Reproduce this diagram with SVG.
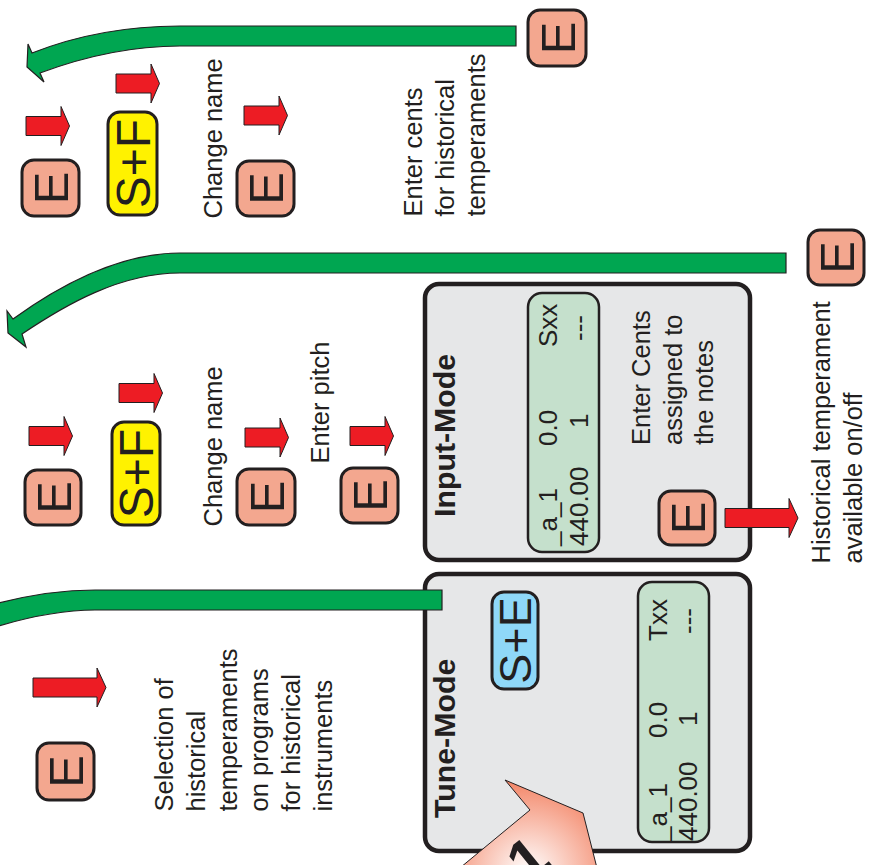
<svg xmlns="http://www.w3.org/2000/svg" xmlns:xlink="http://www.w3.org/1999/xlink" width="874" height="865" viewBox="0 0 874 865">
<style>
.t{font-family:"Liberation Sans",Arial,sans-serif;font-size:25.5px;fill:#231f20}
.lcd{font-family:"Liberation Sans",Arial,sans-serif;font-size:26px;fill:#231f20}
.title{font-family:"Liberation Sans",Arial,sans-serif;font-size:30.3px;font-weight:bold;fill:#231f20}
.key{font-family:"Liberation Sans",Arial,sans-serif;fill:#231f20;text-anchor:middle}
.eb{fill:#f3a78f;stroke:#231f20;stroke-width:3}
.sf{fill:#fff200;stroke:#231f20;stroke-width:3}
.se{fill:#8fd8f8;stroke:#231f20;stroke-width:3}
.box{fill:#e6e7e8;stroke:#231f20;stroke-width:4.5}
.lcdbox{fill:#c5e0cc;stroke:#231f20;stroke-width:2.5}
.green{fill:#00a651;stroke:#231f20;stroke-width:1.2}
.red{fill:#ed1c24;stroke:#231f20;stroke-width:1}
</style>
<defs>
<path id="ra" class="red" d="M0,-9.5 H35 V-19.5 L43.5,0 L35,19.5 V9.5 H0 Z"/>
<path id="ral" class="red" d="M0,-9.5 H64 V-19.5 L73,0 L64,19.5 V9.5 H0 Z"/>
<radialGradient id="pk" gradientUnits="userSpaceOnUse" cx="528" cy="872" r="100">
<stop offset="0" stop-color="#ffffff"/>
<stop offset="1" stop-color="#f27b5a"/>
</radialGradient>
</defs>

<g id="tune-mode">
<rect class="box" x="425" y="574" width="325" height="277" rx="14"/>
<text class="title" transform="translate(455,818) rotate(-90)">Tune-Mode</text>
<rect class="lcdbox" x="638" y="582" width="71" height="260" rx="14"/>
<g class="lcd">
<text transform="translate(667,841) rotate(-90)">_a_1</text>
<text transform="translate(667,738) rotate(-90)">0.0</text>
<text transform="translate(667,641) rotate(-90)">Txx</text>
<text transform="translate(697,841) rotate(-90)">440.00</text>
<text transform="translate(697,726) rotate(-90)">1</text>
<text transform="translate(697,634) rotate(-90)">---</text>
</g>
</g>
<g id="key-se">
<rect class="se" x="492" y="592" width="46" height="97" rx="12"/>
<text class="key" font-size="45" transform="translate(515,640.5) rotate(-90)" y="16">S+E</text>
</g>

<g id="input-mode">
<rect class="box" x="425" y="284" width="325" height="276" rx="14"/>
<text class="title" transform="translate(455,517) rotate(-90)">Input-Mode</text>
<rect class="lcdbox" x="528" y="293" width="71" height="259" rx="14"/>
<g class="lcd">
<text transform="translate(557,546) rotate(-90)">_a_1</text>
<text transform="translate(557,446) rotate(-90)">0.0</text>
<text transform="translate(557,347) rotate(-90)">Sxx</text>
<text transform="translate(588,546) rotate(-90)">440.00</text>
<text transform="translate(588,428) rotate(-90)">1</text>
<text transform="translate(588,341) rotate(-90)">---</text>
</g>
<text class="t" transform="translate(650,445) rotate(-90)"><tspan x="0">Enter Cents</tspan><tspan x="0" dy="31.5">assigned to</tspan><tspan x="0" dy="31.5">the notes</tspan></text>
</g>

<g id="connectors">
<path class="green" d="M516,26 L180,26 C120,26 70,38 32,53 L28,44 L27,67 L44,82 L40,73 C75,60 125,46 180,46 L516,46 Z"/>
<path class="green" d="M786,253 L180,253 C120,253 60,285 13,319 L7,311 L8,333 L26,347 L22,334 C65,305 120,273 180,273 L786,273 Z"/>
<path class="green" d="M442,590 L95,590 C60,590 25,596 -5,604 L-5,627 C25,618 60,610 95,610 L442,610 Z"/>
<use href="#ra" x="26" y="126"/>
<use href="#ra" x="116" y="83.5"/>
<use href="#ra" x="244" y="115.5"/>
<use href="#ra" x="29" y="436"/>
<use href="#ra" x="119" y="393"/>
<use href="#ra" x="245" y="437.5"/>
<use href="#ra" x="350" y="436"/>
<use href="#ral" x="33" y="687.5"/>
<use href="#ral" x="725" y="518"/>
</g>

<g id="key-e-1"><rect class="eb" x="22" y="160" width="57" height="56" rx="12"/><text class="key" font-size="49" transform="translate(50.5,188) rotate(-90)" y="17.5">E</text></g>
<g id="key-sf-1"><rect class="sf" x="108" y="112" width="49" height="103" rx="12"/><text class="key" font-size="48" transform="translate(132.5,163.5) rotate(-90)" y="17.2">S+F</text></g>
<g id="key-e-2"><rect class="eb" x="237" y="161" width="57" height="55" rx="12"/><text class="key" font-size="49" transform="translate(265.5,188.5) rotate(-90)" y="17.5">E</text></g>
<g id="key-e-3"><rect class="eb" x="528" y="10" width="58" height="56" rx="12"/><text class="key" font-size="49" transform="translate(557,38) rotate(-90)" y="17.5">E</text></g>
<g id="key-e-4"><rect class="eb" x="25" y="470" width="56" height="55" rx="12"/><text class="key" font-size="49" transform="translate(53,497.5) rotate(-90)" y="17.5">E</text></g>
<g id="key-sf-2"><rect class="sf" x="112" y="422" width="48" height="103" rx="12"/><text class="key" font-size="48" transform="translate(136,473.5) rotate(-90)" y="17.2">S+F</text></g>
<g id="key-e-5"><rect class="eb" x="237" y="469" width="58" height="56" rx="12"/><text class="key" font-size="49" transform="translate(266,497) rotate(-90)" y="17.5">E</text></g>
<g id="key-e-6"><rect class="eb" x="341" y="468" width="57" height="55" rx="12"/><text class="key" font-size="49" transform="translate(369.5,495.5) rotate(-90)" y="17.5">E</text></g>
<g id="key-e-7"><rect class="eb" x="808" y="230" width="56" height="55" rx="12"/><text class="key" font-size="49" transform="translate(836,257.5) rotate(-90)" y="17.5">E</text></g>
<g id="key-e-8"><rect class="eb" x="659" y="491" width="56" height="54" rx="12"/><text class="key" font-size="49" transform="translate(687,518) rotate(-90)" y="17.5">E</text></g>
<g id="key-e-9"><rect class="eb" x="37" y="743" width="57" height="57" rx="12"/><text class="key" font-size="49" transform="translate(65.5,771.5) rotate(-90)" y="17.5">E</text></g>

<g id="labels">
<text class="t" transform="translate(222,218.5) rotate(-90)">Change name</text>
<text class="t" transform="translate(422,216.5) rotate(-90)"><tspan x="0">Enter cents</tspan><tspan x="0" dy="31.5">for historical</tspan><tspan x="0" dy="31.5">temperaments</tspan></text>
<text class="t" transform="translate(222,526.5) rotate(-90)">Change name</text>
<text class="t" transform="translate(329,463.5) rotate(-90)">Enter pitch</text>
<text class="t" transform="translate(830,563.5) rotate(-90)"><tspan x="0">Historical temperament</tspan><tspan x="0" dy="32">available on/off</tspan></text>
<text class="t" transform="translate(173,811.5) rotate(-90)"><tspan x="0">Selection of</tspan><tspan x="0" dy="31.8">historical</tspan><tspan x="0" dy="31.8">temperaments</tspan><tspan x="0" dy="31.8">on programs</tspan><tspan x="0" dy="31.8">for historical</tspan><tspan x="0" dy="31.8">instruments</tspan></text>
</g>

<g id="step-1">
<polygon points="505,780 530,810 455,872 598,872 583,813" fill="url(#pk)" stroke="#231f20" stroke-width="1"/>
<text transform="translate(528,886) rotate(-39)" font-family="Liberation Sans, Arial, sans-serif" font-weight="bold" font-size="60" fill="#231f20">1</text>
</g>
</svg>
